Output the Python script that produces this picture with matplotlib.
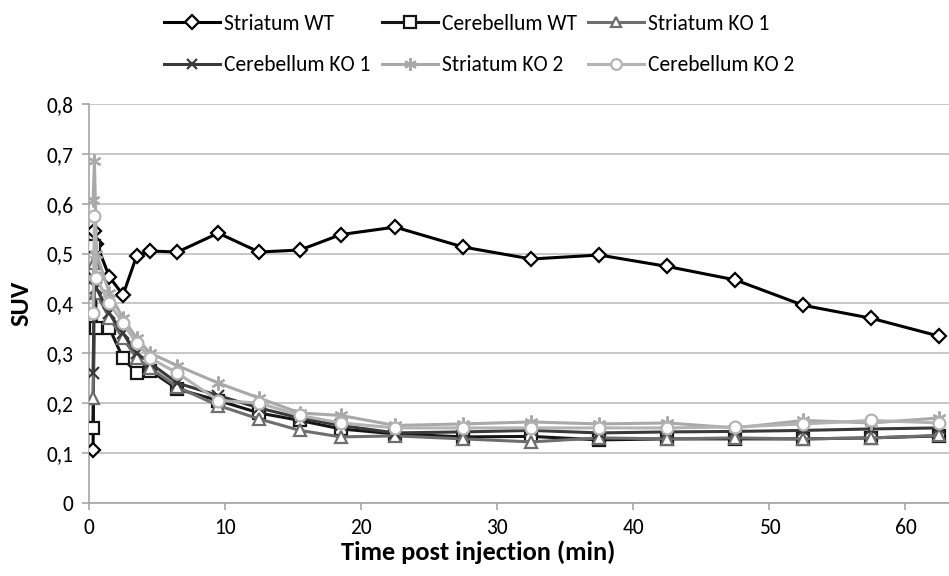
import matplotlib
matplotlib.use("Agg")
import matplotlib.pyplot as plt
from matplotlib import font_manager

# pick a narrow humanist face if one is installed
names = {f.name for f in font_manager.fontManager.ttflist}
face = next((n for n in ["Carlito", "Liberation Sans Narrow", "Lato"] if n in names), "DejaVu Sans")
plt.rcParams['font.family'] = [face, 'DejaVu Sans']

# frame mid times (min)
t = [0.3, 0.4, 0.55, 1.5, 2.5, 3.5, 4.5, 6.5, 9.5, 12.5, 15.5, 18.5,
     22.5, 27.5, 32.5, 37.5, 42.5, 47.5, 52.5, 57.5, 62.5]

striatum_wt = [0.105, 0.545, 0.52, 0.453, 0.417, 0.495, 0.505, 0.503, 0.541, 0.503, 0.507, 0.538,
               0.553, 0.513, 0.489, 0.497, 0.474, 0.447, 0.396, 0.370, 0.334]
cerebellum_wt = [0.15, 0.515, 0.35, 0.35, 0.29, 0.26, 0.265, 0.228, 0.205, 0.18, 0.165, 0.148,
                 0.138, 0.132, 0.133, 0.126, 0.128, 0.128, 0.128, 0.130, 0.134]
striatum_ko1 = [0.21, 0.48, 0.42, 0.37, 0.33, 0.29, 0.27, 0.232, 0.195, 0.168, 0.145, 0.132,
                0.134, 0.128, 0.122, 0.130, 0.128, 0.130, 0.128, 0.130, 0.135]
cerebellum_ko1 = [0.26, 0.45, 0.43, 0.38, 0.34, 0.30, 0.28, 0.24, 0.215, 0.19, 0.17, 0.155,
                  0.140, 0.142, 0.145, 0.140, 0.142, 0.143, 0.145, 0.148, 0.150]
striatum_ko2 = [0.607, 0.685, 0.50, 0.42, 0.37, 0.33, 0.30, 0.275, 0.24, 0.21, 0.18, 0.175,
                0.155, 0.158, 0.162, 0.158, 0.160, 0.150, 0.165, 0.160, 0.170]
cerebellum_ko2 = [0.38, 0.575, 0.45, 0.40, 0.36, 0.32, 0.29, 0.26, 0.205, 0.20, 0.175, 0.16,
                  0.150, 0.150, 0.150, 0.150, 0.150, 0.152, 0.158, 0.165, 0.160]

series = [
    ("Striatum WT", striatum_wt, "#000000", "D", 7.5),
    ("Cerebellum WT", cerebellum_wt, "#151515", "s", 9),
    ("Striatum KO 1", striatum_ko1, "#6e6e6e", "^", 8),
    ("Cerebellum KO 1", cerebellum_ko1, "#3a3a3a", "x", 8),
    ("Striatum KO 2", striatum_ko2, "#a9a9a9", (6, 2, 0), 10),
    ("Cerebellum KO 2", cerebellum_ko2, "#b3b3b3", "o", 8.5),
]

fig = plt.figure(figsize=(9.49, 5.76), dpi=100)
ax = fig.add_axes([89 / 949, 0.1273, 1 - 89 / 949, 0.6921])

lines = []
for name, vals, col, mk, ms in series:
    ln, = ax.plot(t, vals, color=col, lw=2.2, marker=mk, ms=ms, mew=1.6,
                  mfc="white", mec=col, label=name, zorder=3)
    lines.append(ln)

ax.set_xlim(0, 63.2)
ax.set_ylim(0, 0.8)
ax.set_xticks(range(0, 61, 10))
ax.set_yticks([i / 10 for i in range(9)])
ax.set_yticklabels(["0"] + ["0,%d" % i for i in range(1, 9)])
ax.grid(axis="y", color="#bdbdbd", lw=1.2)
ax.set_axisbelow(True)
for s in ["top", "right"]:
    ax.spines[s].set_visible(False)
for s in ["left", "bottom"]:
    ax.spines[s].set_color("#a6a6a6")
    ax.spines[s].set_linewidth(1.2)
ax.tick_params(length=5, width=1.2, color="#a6a6a6", labelsize=15.5, pad=6)

ax.set_ylabel("SUV", fontsize=19, fontweight="bold", labelpad=10)
ax.set_xlabel("Time post injection (min)", fontsize=19, fontweight="bold", labelpad=6)
ax.xaxis.set_label_coords(0.452, -0.095)

# legend fills column by column, so interleave to read row-wise
order = [0, 3, 1, 4, 2, 5]
fig.legend([lines[i] for i in order], [series[i][0] for i in order],
           loc="upper center", bbox_to_anchor=(0.505, 1.01), ncol=3, frameon=False,
           fontsize=15.5, handlelength=2.6, handletextpad=0.2, columnspacing=0.5,
           labelspacing=1.0, markerscale=0.9)

fig.savefig("out.png", dpi=100)
